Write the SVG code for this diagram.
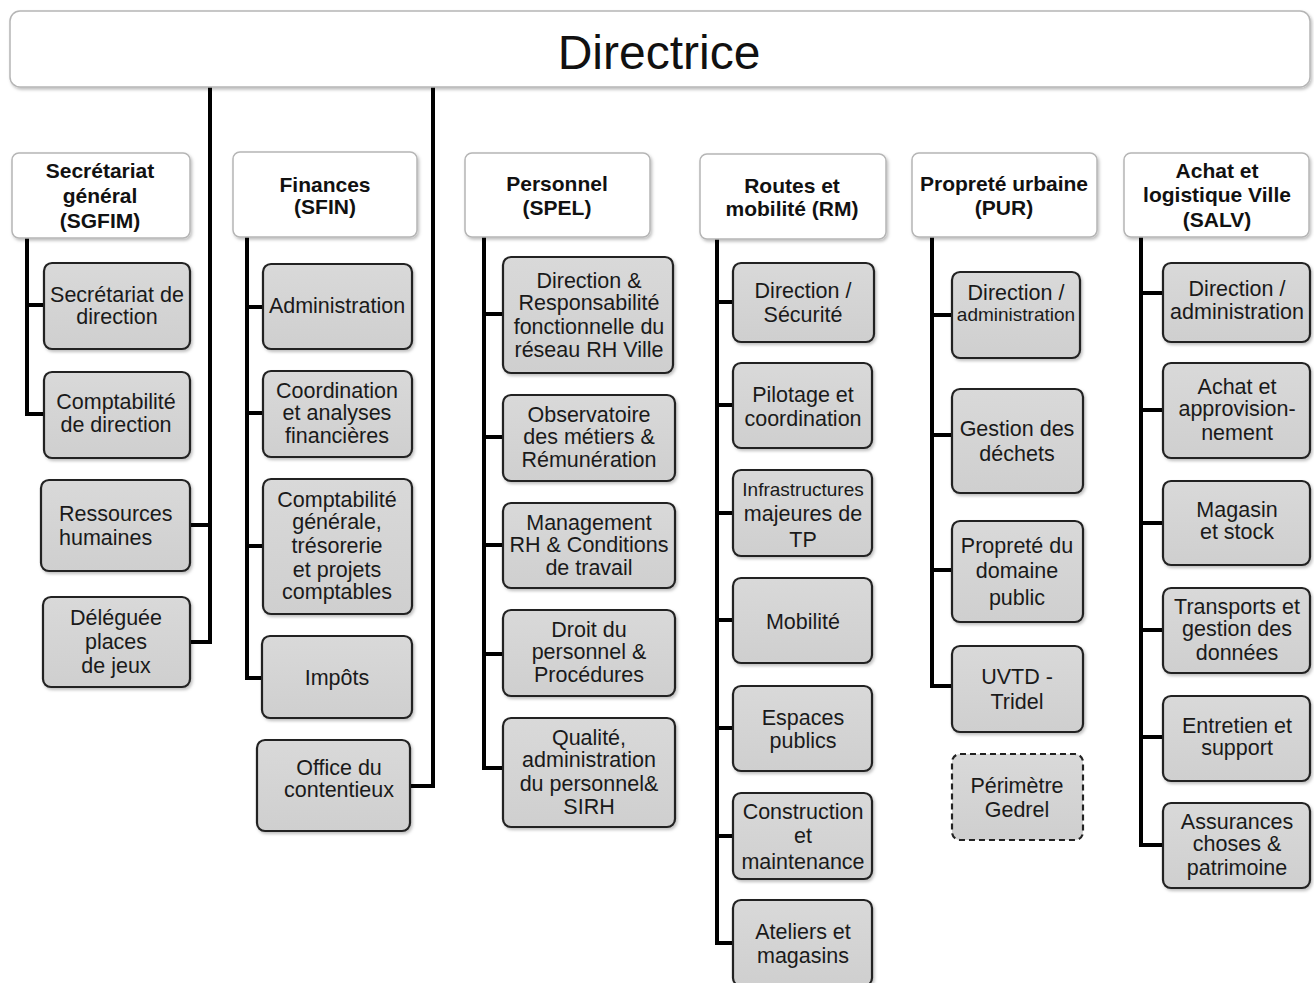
<svg xmlns="http://www.w3.org/2000/svg" width="1314" height="983" viewBox="0 0 1314 983">
<defs>
<filter id="sh" x="-10%" y="-10%" width="125%" height="130%">
<feDropShadow dx="1.5" dy="2" stdDeviation="1.5" flood-color="#000" flood-opacity="0.25"/>
</filter>
<linearGradient id="gg" x1="0" y1="0" x2="0" y2="1">
<stop offset="0" stop-color="#d9d9d9"/>
<stop offset="1" stop-color="#cfcfcf"/>
</linearGradient>
</defs>
<style>
.hdr{fill:#fff;stroke:#b5b5b5;stroke-width:1.5;filter:url(#sh)}
.box{fill:url(#gg);stroke:#222;stroke-width:2.2;filter:url(#sh)}
.dash{fill:url(#gg);stroke:#222;stroke-width:2.2;stroke-dasharray:6,4}
.ht{font-family:"Liberation Sans",Arial,sans-serif;font-weight:bold;font-size:21px;fill:#111;text-anchor:middle}
.t{font-family:"Liberation Sans",Arial,sans-serif;font-size:21.5px;fill:#1a1a1a;text-anchor:middle}
.s{font-size:19px}
.conn{fill:none;stroke:#000;stroke-width:4;stroke-linejoin:miter;stroke-linecap:square}
</style>
<rect width="1314" height="983" fill="#fff"/>
<g id="connectors" class="conn">
<path d="M210,88 V642 M190,525 H210 M190,642 H210"/>
<path d="M433,88 V786 M410,786 H433"/>
<path d="M27,238 V414 H44 M27,305 H44"/>
<path d="M247,238 V678 H263 M247,307 H263 M247,413 H263 M247,546 H263"/>
<path d="M484,238 V768 H503 M484,314 H503 M484,437 H503 M484,545 H503 M484,654 H503"/>
<path d="M717,240 V943 H733 M717,302 H733 M717,405 H733 M717,513 H733 M717,620 H733 M717,728 H733 M717,836 H733"/>
<path d="M932,238 V686 H952 M932,315 H952 M932,435 H952 M932,570 H952"/>
<path d="M1141,238 V845 H1163 M1141,293 H1163 M1141,410 H1163 M1141,523 H1163 M1141,630 H1163 M1141,737 H1163"/>
</g>
<g id="directrice">
<rect class="hdr" x="10" y="11" width="1300" height="76" rx="10"/>
<text x="659" y="69" font-family="Liberation Sans,Arial,sans-serif" font-size="48" fill="#111" text-anchor="middle">Directrice</text>
</g>
<g id="sgfim">
<rect class="hdr" x="12" y="153" width="178" height="85" rx="7"/>
<text class="ht"><tspan x="100" y="178">Secrétariat</tspan><tspan x="100" y="203">général</tspan><tspan x="100" y="228">(SGFIM)</tspan></text>
</g>
<g id="sfin">
<rect class="hdr" x="233" y="152" width="184" height="85" rx="7"/>
<text class="ht"><tspan x="325" y="192">Finances</tspan><tspan x="325" y="214">(SFIN)</tspan></text>
</g>
<g id="spel">
<rect class="hdr" x="465" y="153" width="185" height="84" rx="7"/>
<text class="ht"><tspan x="557" y="191">Personnel</tspan><tspan x="557" y="215">(SPEL)</tspan></text>
</g>
<g id="rm">
<rect class="hdr" x="700" y="154" width="186" height="85" rx="7"/>
<text class="ht"><tspan x="792" y="193">Routes et</tspan><tspan x="792" y="216">mobilité (RM)</tspan></text>
</g>
<g id="pur">
<rect class="hdr" x="912" y="153" width="185" height="84" rx="7"/>
<text class="ht"><tspan x="1004" y="191">Propreté urbaine</tspan><tspan x="1004" y="215">(PUR)</tspan></text>
</g>
<g id="salv">
<rect class="hdr" x="1124" y="153" width="185" height="84" rx="7"/>
<text class="ht"><tspan x="1217" y="178">Achat et</tspan><tspan x="1217" y="202">logistique Ville</tspan><tspan x="1217" y="227">(SALV)</tspan></text>
</g>

<g id="sg-secretariat">
<rect class="box" x="44" y="263" width="146" height="86" rx="8"/>
<text class="t"><tspan x="117" y="302">Secrétariat de</tspan><tspan x="117" y="324">direction</tspan></text>
</g>
<g id="sg-comptabilite">
<rect class="box" x="44" y="372" width="146" height="86" rx="8"/>
<text class="t"><tspan x="116" y="409">Comptabilité</tspan><tspan x="116" y="432">de direction</tspan></text>
</g>
<g id="ressources-humaines">
<rect class="box" x="41" y="480" width="149" height="91" rx="8"/>
<text class="t" style="text-anchor:start"><tspan x="59" y="521">Ressources</tspan><tspan x="59" y="545">humaines</tspan></text>
</g>
<g id="deleguee">
<rect class="box" x="43" y="597" width="147" height="90" rx="8"/>
<text class="t"><tspan x="116" y="625">Déléguée</tspan><tspan x="116" y="649">places</tspan><tspan x="116" y="673">de jeux</tspan></text>
</g>

<g id="fin-administration">
<rect class="box" x="263" y="264" width="149" height="85" rx="8"/>
<text class="t" x="337" y="313">Administration</text>
</g>
<g id="fin-coordination">
<rect class="box" x="263" y="371" width="149" height="86" rx="8"/>
<text class="t"><tspan x="337" y="398">Coordination</tspan><tspan x="337" y="420">et analyses</tspan><tspan x="337" y="443">financières</tspan></text>
</g>
<g id="fin-comptabilite">
<rect class="box" x="263" y="479" width="149" height="135" rx="8"/>
<text class="t"><tspan x="337" y="507">Comptabilité</tspan><tspan x="337" y="529">générale,</tspan><tspan x="337" y="553">trésorerie</tspan><tspan x="337" y="577">et projets</tspan><tspan x="337" y="599">comptables</tspan></text>
</g>
<g id="fin-impots">
<rect class="box" x="262" y="636" width="150" height="82" rx="8"/>
<text class="t" x="337" y="685">Impôts</text>
</g>
<g id="office-contentieux">
<rect class="box" x="257" y="740" width="153" height="91" rx="8"/>
<text class="t"><tspan x="339" y="775">Office du</tspan><tspan x="339" y="797">contentieux</tspan></text>
</g>

<g id="pel-direction">
<rect class="box" x="503" y="257" width="170" height="116" rx="8"/>
<text class="t"><tspan x="589" y="288">Direction &amp;</tspan><tspan x="589" y="310">Responsabilité</tspan><tspan x="589" y="334">fonctionnelle du</tspan><tspan x="589" y="357">réseau RH Ville</tspan></text>
</g>
<g id="pel-observatoire">
<rect class="box" x="503" y="395" width="172" height="86" rx="8"/>
<text class="t"><tspan x="589" y="422">Observatoire</tspan><tspan x="589" y="444">des métiers &amp;</tspan><tspan x="589" y="467">Rémunération</tspan></text>
</g>
<g id="pel-management">
<rect class="box" x="503" y="503" width="172" height="85" rx="8"/>
<text class="t"><tspan x="589" y="530">Management</tspan><tspan x="589" y="552">RH &amp; Conditions</tspan><tspan x="589" y="575">de travail</tspan></text>
</g>
<g id="pel-droit">
<rect class="box" x="503" y="610" width="172" height="86" rx="8"/>
<text class="t"><tspan x="589" y="637">Droit du</tspan><tspan x="589" y="659">personnel &amp;</tspan><tspan x="589" y="682">Procédures</tspan></text>
</g>
<g id="pel-qualite">
<rect class="box" x="503" y="718" width="172" height="109" rx="8"/>
<text class="t"><tspan x="589" y="745">Qualité,</tspan><tspan x="589" y="767">administration</tspan><tspan x="589" y="791">du personnel&amp;</tspan><tspan x="589" y="814">SIRH</tspan></text>
</g>

<g id="rm-direction">
<rect class="box" x="733" y="263" width="141" height="79" rx="8"/>
<text class="t"><tspan x="803" y="298">Direction /</tspan><tspan x="803" y="322">Sécurité</tspan></text>
</g>
<g id="rm-pilotage">
<rect class="box" x="733" y="363" width="139" height="85" rx="8"/>
<text class="t"><tspan x="803" y="402">Pilotage et</tspan><tspan x="803" y="426">coordination</tspan></text>
</g>
<g id="rm-infrastructures">
<rect class="box" x="733" y="470" width="139" height="86" rx="8"/>
<text class="t"><tspan x="803" y="496" class="s">Infrastructures</tspan><tspan x="803" y="521">majeures de</tspan><tspan x="803" y="547">TP</tspan></text>
</g>
<g id="rm-mobilite">
<rect class="box" x="733" y="578" width="139" height="85" rx="8"/>
<text class="t" x="803" y="629">Mobilité</text>
</g>
<g id="rm-espaces">
<rect class="box" x="733" y="686" width="139" height="85" rx="8"/>
<text class="t"><tspan x="803" y="725">Espaces</tspan><tspan x="803" y="748">publics</tspan></text>
</g>
<g id="rm-construction">
<rect class="box" x="733" y="793" width="139" height="86" rx="8"/>
<text class="t"><tspan x="803" y="819">Construction</tspan><tspan x="803" y="843">et</tspan><tspan x="803" y="869">maintenance</tspan></text>
</g>
<g id="rm-ateliers">
<rect class="box" x="733" y="900" width="139" height="86" rx="8"/>
<text class="t"><tspan x="803" y="939">Ateliers et</tspan><tspan x="803" y="963">magasins</tspan></text>
</g>

<g id="pur-direction">
<rect class="box" x="952" y="272" width="128" height="86" rx="8"/>
<text class="t"><tspan x="1016" y="300">Direction /</tspan><tspan x="1016" y="321" class="s">administration</tspan></text>
</g>
<g id="pur-dechets">
<rect class="box" x="952" y="389" width="131" height="104" rx="8"/>
<text class="t"><tspan x="1017" y="436">Gestion des</tspan><tspan x="1017" y="461">déchets</tspan></text>
</g>
<g id="pur-proprete">
<rect class="box" x="952" y="521" width="131" height="101" rx="8"/>
<text class="t"><tspan x="1017" y="553">Propreté du</tspan><tspan x="1017" y="578">domaine</tspan><tspan x="1017" y="605">public</tspan></text>
</g>
<g id="pur-uvtd">
<rect class="box" x="952" y="646" width="131" height="86" rx="8"/>
<text class="t"><tspan x="1017" y="684">UVTD -</tspan><tspan x="1017" y="709">Tridel</tspan></text>
</g>
<g id="pur-gedrel">
<rect class="dash" x="952" y="754" width="131" height="86" rx="8"/>
<text class="t"><tspan x="1017" y="793">Périmètre</tspan><tspan x="1017" y="817">Gedrel</tspan></text>
</g>

<g id="salv-direction">
<rect class="box" x="1163" y="263" width="147" height="79" rx="8"/>
<text class="t"><tspan x="1237" y="296">Direction /</tspan><tspan x="1237" y="319">administration</tspan></text>
</g>
<g id="salv-achat">
<rect class="box" x="1163" y="363" width="147" height="95" rx="8"/>
<text class="t"><tspan x="1237" y="394">Achat et</tspan><tspan x="1237" y="416">approvision-</tspan><tspan x="1237" y="440">nement</tspan></text>
</g>
<g id="salv-magasin">
<rect class="box" x="1163" y="481" width="147" height="84" rx="8"/>
<text class="t"><tspan x="1237" y="517">Magasin</tspan><tspan x="1237" y="539">et stock</tspan></text>
</g>
<g id="salv-transports">
<rect class="box" x="1163" y="588" width="147" height="85" rx="8"/>
<text class="t"><tspan x="1237" y="614">Transports et</tspan><tspan x="1237" y="636">gestion des</tspan><tspan x="1237" y="660">données</tspan></text>
</g>
<g id="salv-entretien">
<rect class="box" x="1163" y="696" width="147" height="85" rx="8"/>
<text class="t"><tspan x="1237" y="733">Entretien et</tspan><tspan x="1237" y="755">support</tspan></text>
</g>
<g id="salv-assurances">
<rect class="box" x="1163" y="803" width="147" height="85" rx="8"/>
<text class="t"><tspan x="1237" y="829">Assurances</tspan><tspan x="1237" y="851">choses &amp;</tspan><tspan x="1237" y="875">patrimoine</tspan></text>
</g>
</svg>
